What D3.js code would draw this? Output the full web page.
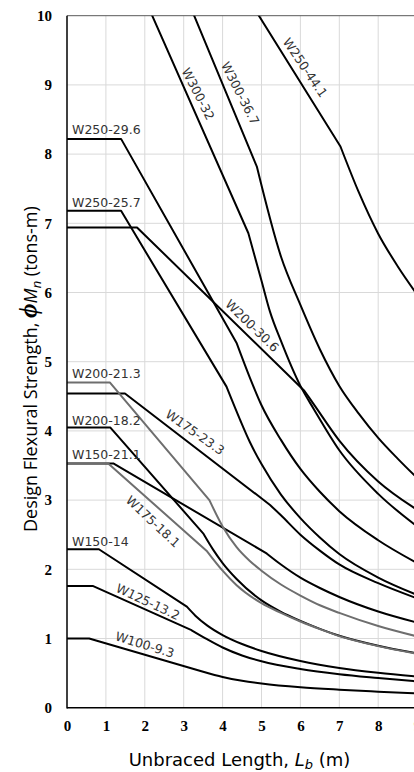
<!DOCTYPE html>
<html>
<head>
<meta charset="utf-8">
<script src="https://cdn.jsdelivr.net/npm/d3@7"></script>
<style>
  html, body { margin: 0; padding: 0; background: #fff; overflow: hidden; }
  svg { display: block; }
</style>
</head>
<body>
<svg id="chart" width="414" height="772"></svg>
<script>
// Design flexural strength (tons-m) against unbraced length Lb (m) for W-sections.
// Each curve: plastic plateau, straight inelastic segment up to Lr, then the elastic branch.

const lengthTicks = [0, 1, 2, 3, 4, 5, 6, 7, 8, 9];
const strengthTicks = [0, 1, 2, 3, 4, 5, 6, 7, 8, 9, 10];

const w100_9_3 = [[0, 1.00], [0.57, 1.00], [3.5, 0.52], [4, 0.445], [4.5, 0.39], [5, 0.35], [6, 0.295], [7, 0.26], [8, 0.232], [9, 0.207]];
const w125_13_2 = [[0, 1.76], [0.66, 1.76], [3.2, 1.12], [3.6, 0.99], [4, 0.87], [4.5, 0.755], [5, 0.67], [6, 0.56], [7, 0.485], [8, 0.43], [9, 0.38]];
const w150_14 = [[0, 2.29], [0.82, 2.29], [3.08, 1.46], [3.3, 1.33], [3.6, 1.19], [4, 1.05], [4.5, 0.92], [5, 0.82], [6, 0.675], [7, 0.575], [8, 0.505], [9, 0.45]];
const w150_21_1 = [[0, 3.53], [1.19, 3.53], [5.13, 2.23], [5.5, 2.07], [6, 1.88], [6.5, 1.73], [7, 1.60], [8, 1.39], [9, 1.23]];
const w175_18_1 = [[0, 3.53], [1.06, 3.53], [3.6, 2.26], [4, 1.98], [4.36, 1.77], [5, 1.51], [5.5, 1.37], [6, 1.245], [6.5, 1.135], [7, 1.035], [8, 0.89], [9, 0.78]];
const w175_23_3 = [[0, 4.54], [1.49, 4.54], [5.22, 2.93], [5.5, 2.78], [6, 2.50], [6.5, 2.27], [7, 2.07], [8, 1.80], [9, 1.58]];
const w200_18_2 = [[0, 4.05], [1.11, 4.05], [3.5, 2.52], [3.76, 2.28], [4, 2.09], [4.36, 1.86], [5, 1.55], [5.5, 1.385], [6, 1.255], [6.5, 1.14], [7, 1.04], [8, 0.895], [9, 0.785]];
const w200_21_3 = [[0, 4.70], [1.1, 4.70], [3.66, 3.00], [4, 2.62], [4.36, 2.32], [4.7, 2.12], [5, 1.98], [5.5, 1.78], [6, 1.62], [6.5, 1.48], [7, 1.37], [8, 1.18], [9, 1.03]];
const w200_30_6 = [[0, 6.94], [1.8, 6.94], [6.1, 4.58], [6.35, 4.38], [7, 3.86], [8, 3.27], [9, 2.86]];
const w250_25_7 = [[0, 7.18], [1.39, 7.18], [4.10, 4.64], [4.45, 4.16], [4.7, 3.84], [5, 3.52], [5.5, 3.08], [6, 2.74], [6.5, 2.46], [7, 2.22], [8, 1.88], [9, 1.63]];
const w250_29_6 = [[0, 8.22], [1.39, 8.22], [4.36, 5.27], [4.7, 4.77], [5, 4.37], [5.5, 3.87], [6, 3.45], [6.5, 3.12], [7, 2.84], [8, 2.42], [9, 2.09]];
const w250_44_1 = [[4.6, 10.30], [7.03, 8.11], [7.5, 7.45], [8, 6.85], [8.5, 6.38], [9, 5.97]];
const w300_32 = [[1.9, 10.37], [4.66, 6.86], [5, 6.17], [5.22, 5.72], [5.5, 5.30], [6, 4.65], [6.35, 4.31], [7, 3.72], [8, 3.09], [9, 2.62]];
const w300_36_7 = [[2.9, 10.50], [4.88, 7.82], [5.5, 6.52], [6, 5.82], [6.5, 5.18], [7, 4.65], [7.5, 4.25], [8, 3.90], [8.5, 3.60], [9, 3.32]];

const sectionNames = ["W100-9.3", "W125-13.2", "W150-14", "W150-21.1", "W175-23.3", "W200-18.2",
  "W200-30.6", "W250-25.7", "W250-29.6", "W250-44.1", "W300-32", "W300-36.7", "W200-21.3", "W175-18.1"];
const sectionValues = [w100_9_3, w125_13_2, w150_14, w150_21_1, w175_23_3, w200_18_2,
  w200_30_6, w250_25_7, w250_29_6, w250_44_1, w300_32, w300_36_7, w200_21_3, w175_18_1];
// Lr: unbraced length where the elastic branch begins
const lrValues = [3.5, 3.2, 3.08, 5.13, 5.22, 3.5, 6.1, 4.10, 4.36, 7.03, 4.66, 4.88, 3.66, 3.6];
const greySections = ["W200-21.3", "W175-18.1"];

// Curve labels: [text, Lb, strength, rotation in degrees, anchor]
const curveLabels = [
  ["W250-29.6", 0.13, 8.29, 0, "start"],
  ["W250-25.7", 0.13, 7.24, 0, "start"],
  ["W200-21.3", 0.13, 4.77, 0, "start"],
  ["W200-18.2", 0.13, 4.09, 0, "start"],
  ["W150-21.1", 0.13, 3.59, 0, "start"],
  ["W150-14", 0.13, 2.34, 0, "start"],
  ["W300-32", 3.37, 8.87, 63, "middle"],
  ["W300-36.7", 4.45, 8.88, 63, "middle"],
  ["W250-44.1", 6.12, 9.25, 56, "middle"],
  ["W200-30.6", 4.76, 5.52, 44, "middle"],
  ["W175-23.3", 3.29, 3.98, 35, "middle"],
  ["W175-18.1", 2.21, 2.69, 43, "middle"],
  ["W125-13.2", 2.08, 1.53, 25, "middle"],
  ["W100-9.3", 2.0, 0.91, 17, "middle"]
];

const svg = d3.select("#chart");
const plotLeft = 67, plotTop = 15.7, plotBottom = 707.7, unitX = 38.9;

const x = d3.scaleLinear().domain([0, 10]).range([plotLeft, plotLeft + 10 * unitX]);
const y = d3.scaleLinear().domain([0, 10]).range([plotBottom, plotTop]);

svg.append("defs").append("clipPath").attr("id", "plot-clip")
  .append("rect").attr("x", plotLeft).attr("y", plotTop)
  .attr("width", x(10) - plotLeft).attr("height", plotBottom - plotTop);

// grid
const grid = svg.append("g").attr("stroke", "#d9d9d9").attr("stroke-width", 1);
grid.selectAll("line.v").data(lengthTicks.filter(d => d > 0)).join("line")
  .attr("class", "v")
  .attr("x1", d => x(d)).attr("x2", d => x(d))
  .attr("y1", plotTop).attr("y2", plotBottom);
grid.selectAll("line.h").data(strengthTicks.filter(d => d > 0 && d < 10)).join("line")
  .attr("class", "h")
  .attr("x1", plotLeft).attr("x2", x(10))
  .attr("y1", d => y(d)).attr("y2", d => y(d));

// top border of the plot area
svg.append("line")
  .attr("x1", plotLeft).attr("x2", x(10))
  .attr("y1", y(10)).attr("y2", y(10))
  .attr("stroke", "#595959").attr("stroke-width", 1);

// curves
const straight = d3.line().x(d => x(d[0])).y(d => y(d[1]));
const smooth = d3.line().x(d => x(d[0])).y(d => y(d[1])).curve(d3.curveMonotoneX);

const curves = svg.append("g").attr("clip-path", "url(#plot-clip)")
  .attr("fill", "none").attr("stroke-linejoin", "round").attr("stroke-linecap", "round");

sectionNames.forEach((name, i) => {
  const pts = sectionValues[i];
  const lr = lrValues[i];
  const inelastic = pts.filter(p => p[0] <= lr);
  const elastic = pts.filter(p => p[0] >= lr);
  curves.append("path")
    .attr("d", straight(inelastic) + smooth(elastic))
    .attr("stroke", greySections.includes(name) ? "#6e6e6e" : "#000")
    .attr("stroke-width", 2);
});

// axes
const yAxis = d3.axisLeft(y).tickValues(strengthTicks).tickSize(0).tickPadding(15);
const yg = svg.append("g").attr("transform", `translate(${plotLeft},0)`).call(yAxis);
const xAxis = d3.axisBottom(x).tickValues(lengthTicks).tickSize(0).tickPadding(13);
const xg = svg.append("g").attr("transform", `translate(0,${plotBottom})`).call(xAxis);
[yg, xg].forEach(g => {
  g.select(".domain").remove();
  g.selectAll("text")
    .attr("font-family", "'Liberation Serif', 'Times New Roman', serif")
    .attr("font-weight", "bold")
    .attr("font-size", 15)
    .attr("fill", "#000");
});

svg.append("line").attr("x1", plotLeft).attr("x2", plotLeft).attr("y1", plotTop).attr("y2", plotBottom + 0.7)
  .attr("stroke", "#000").attr("stroke-width", 1.5);
svg.append("line").attr("x1", plotLeft).attr("x2", x(10)).attr("y1", plotBottom).attr("y2", plotBottom)
  .attr("stroke", "#000").attr("stroke-width", 1.5);

// curve labels
svg.append("g").selectAll("text").data(curveLabels).join("text")
  .attr("transform", d => `translate(${x(d[1])},${y(d[2])}) rotate(${d[3]})`)
  .attr("text-anchor", d => d[4])
  .attr("dy", d => d[4] === "middle" ? "0.35em" : 0)
  .attr("font-family", "'DejaVu Sans', sans-serif")
  .attr("font-size", 12.5)
  .attr("fill", "#333")
  .text(d => d[0]);

// axis titles
const xt = svg.append("text")
  .attr("x", 239.5).attr("y", 766)
  .attr("text-anchor", "middle")
  .attr("font-family", "'DejaVu Sans', sans-serif").attr("font-size", 18).attr("fill", "#000");
xt.append("tspan").text("Unbraced Length, ");
xt.append("tspan").attr("font-style", "italic").text("L");
xt.append("tspan").attr("font-style", "italic").attr("font-size", 13).attr("dy", 3).text("b");
xt.append("tspan").attr("dy", -3).text(" (m)");

const yt = svg.append("text")
  .attr("transform", "translate(37,532) rotate(-90)")
  .attr("text-anchor", "start")
  .attr("font-family", "'Open Sans', sans-serif").attr("font-size", 18).attr("fill", "#000");
yt.append("tspan").text("Design Flexural Strength, ");
yt.append("tspan").attr("font-family", "'Liberation Serif', serif").attr("font-weight", "bold")
  .attr("font-style", "italic").attr("font-size", 25).text("ϕ");
yt.append("tspan").attr("font-style", "italic").text("M");
yt.append("tspan").attr("font-style", "italic").attr("font-size", 13).attr("dy", 4).text("n");
yt.append("tspan").attr("dy", -4).text(" (tons-m)");
</script>
</body>
</html>
